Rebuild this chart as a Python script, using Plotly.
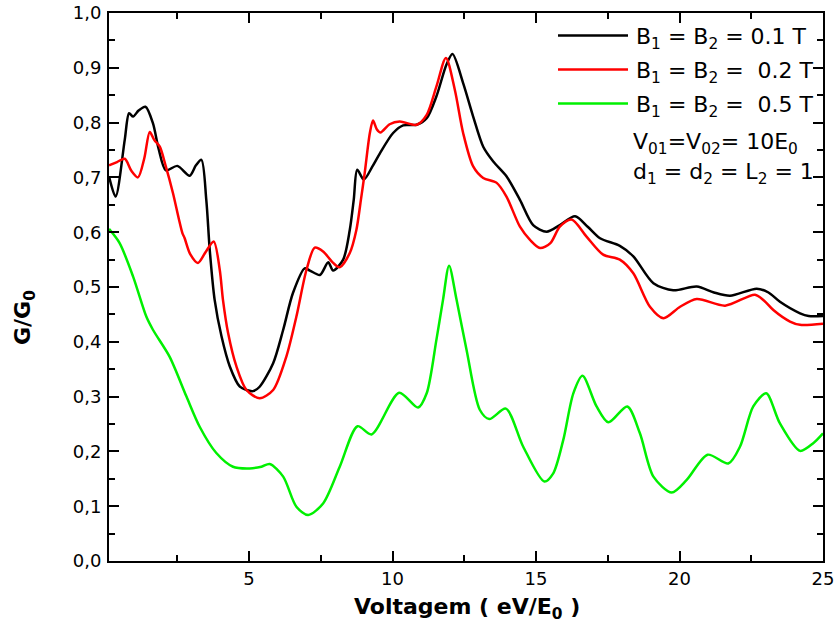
import plotly.graph_objects as go

# ---------------- data ----------------
black_x = [0.12, 0.35, 0.67, 0.82, 0.96, 1.15, 1.39, 1.65, 1.85, 2.1, 2.5, 2.93, 3.15, 3.34, 3.51, 3.63, 3.8,
           4.04, 4.33, 4.68, 4.91, 5.14, 5.37, 5.84, 6.19, 6.53, 6.94, 7.12, 7.47, 7.76, 7.93, 8.28, 8.51, 8.65,
           8.77, 9.0, 9.3, 9.56, 10.02, 10.37, 10.84, 11.19, 11.53, 11.88, 12.09, 12.46, 12.81, 13.16, 13.51,
           13.97, 14.44, 14.9, 15.37, 15.83, 16.36, 16.8, 17.23, 17.92, 18.39, 19.09, 19.78, 20.6, 21.2,
           21.76, 22.69, 23.1, 23.5, 24.2, 24.5, 25.0]
black_y = [0.702, 0.665, 0.769, 0.817, 0.811, 0.822, 0.829, 0.799, 0.752, 0.713, 0.721, 0.703, 0.722, 0.732,
           0.659, 0.568, 0.477, 0.41, 0.355, 0.318, 0.312, 0.310, 0.318, 0.361, 0.422, 0.489, 0.534, 0.53, 0.522,
           0.545, 0.530, 0.55, 0.604, 0.66, 0.714, 0.696, 0.72, 0.744, 0.781, 0.795, 0.796, 0.808, 0.848, 0.906,
           0.925, 0.872, 0.811, 0.756, 0.729, 0.702, 0.659, 0.613, 0.601, 0.613, 0.629, 0.61, 0.589,
           0.575, 0.556, 0.507, 0.494, 0.501, 0.49, 0.484, 0.497, 0.49, 0.473, 0.452, 0.447, 0.447]

red_x = [0.12, 0.4, 0.67, 0.9, 1.13, 1.35, 1.54, 1.7, 1.89, 2.1, 2.35, 2.55, 2.68, 2.75, 2.95, 3.22, 3.5, 3.77,
         3.98, 4.09, 4.27, 4.56, 4.91, 5.37, 5.84, 6.3, 6.65, 7.0, 7.29, 7.58, 7.93, 8.16, 8.51, 8.74,
         8.9, 9.03, 9.21, 9.32, 9.45, 9.58, 9.9, 10.25, 10.84, 11.19, 11.53, 11.86, 12.17, 12.46, 12.81,
         13.16, 13.63, 13.97, 14.44, 14.79, 15.14, 15.5, 15.83, 16.24, 16.76, 17.34, 17.92, 18.39, 18.97, 19.44,
         20.02, 20.6, 21.59, 22.63, 22.95, 23.27, 23.85, 24.2, 25.0]
red_y = [0.722, 0.728, 0.734, 0.712, 0.700, 0.735, 0.783, 0.768, 0.756, 0.72, 0.671, 0.625, 0.598, 0.59, 0.56,
         0.544, 0.565, 0.583, 0.531, 0.477, 0.416, 0.355, 0.312, 0.297, 0.312, 0.373, 0.446, 0.531, 0.572,
         0.565, 0.544, 0.536, 0.562, 0.604, 0.66, 0.708, 0.781, 0.804, 0.788, 0.782, 0.797, 0.802, 0.796, 0.814,
         0.866, 0.918, 0.860, 0.781, 0.720, 0.699, 0.690, 0.665, 0.610, 0.586, 0.571, 0.58, 0.610, 0.623, 0.592,
         0.559, 0.550, 0.525, 0.464, 0.443, 0.464, 0.478, 0.466, 0.486, 0.475, 0.458, 0.437, 0.431, 0.433]

green_x = [0.12, 0.49, 0.96, 1.42, 1.65, 2.23, 2.82, 3.28, 3.86, 4.44, 5.02, 5.43, 5.72, 6.19, 6.65, 7.06, 7.58,
           8.16, 8.78, 9.27, 10.23, 10.89, 11.19, 11.53, 11.76, 11.97, 12.23, 12.58, 13.04, 13.37, 13.95, 14.55,
           15.29, 15.6, 15.95, 16.30, 16.62, 17.11, 17.52, 18.18, 18.62, 19.09, 19.73, 20.25, 20.98, 21.70, 22.11,
           22.57, 23.02, 23.50, 24.20, 24.66, 25.0]
green_y = [0.606, 0.580, 0.519, 0.446, 0.422, 0.373, 0.300, 0.245, 0.197, 0.172, 0.169, 0.172, 0.177, 0.154,
           0.099, 0.084, 0.105, 0.172, 0.246, 0.231, 0.307, 0.280, 0.306, 0.404, 0.477, 0.539, 0.477, 0.385,
           0.276, 0.259, 0.278, 0.209, 0.145, 0.16, 0.221, 0.306, 0.338, 0.282, 0.253, 0.282, 0.233, 0.154, 0.125,
           0.148, 0.194, 0.178, 0.209, 0.282, 0.306, 0.251, 0.201, 0.215, 0.233]

series_names = ["B<sub>1</sub> = B<sub>2</sub> = 0.1 T",
                "B<sub>1</sub> = B<sub>2</sub> =&nbsp; 0.2 T",
                "B<sub>1</sub> = B<sub>2</sub> =&nbsp; 0.5 T"]
series_colors = ["#000000", "#ff0000", "#00f000"]
extra_legend = ["V<sub>01</sub>=V<sub>02</sub>= 10E<sub>0</sub>",
                "d<sub>1</sub> = d<sub>2</sub> = L<sub>2</sub> = 1"]

x_ticks = [5, 10, 15, 20, 25]
x_minor = [2.5, 7.5, 12.5, 17.5, 22.5]
y_ticks = [0.0, 0.1, 0.2, 0.3, 0.4, 0.5, 0.6, 0.7, 0.8, 0.9, 1.0]
y_ticktext = ["0,0", "0,1", "0,2", "0,3", "0,4", "0,5", "0,6", "0,7", "0,8", "0,9", "1,0"]

FONT = "DejaVu Sans, Liberation Sans, Arial, sans-serif"

fig = go.Figure()
for xs, ys, name, col in zip([black_x, red_x, green_x], [black_y, red_y, green_y], series_names, series_colors):
    fig.add_trace(go.Scatter(x=xs, y=ys, mode="lines", name=name,
                             line=dict(color=col, width=2.5, shape="spline", smoothing=0.8),
                             showlegend=False))

# manual legend (lines + text), in paper coordinates
W, H = 839, 630
L, R, T, B = 109, 16, 13, 69
pw, ph = W - L - R, H - T - B
def px2paper(px, py):
    return (px - L) / pw, (H - B - py) / ph

row_y = [35.5, 69.5, 103.5]
for name, col, ry in zip(series_names, series_colors, row_y):
    x0, y0 = px2paper(558, ry)
    x1, _ = px2paper(628, ry)
    fig.add_shape(type="line", xref="paper", yref="paper", x0=x0, x1=x1, y0=y0, y1=y0,
                  line=dict(color=col, width=2.5))
    tx, ty = px2paper(634, ry + 3)
    fig.add_annotation(text=name, xref="paper", yref="paper", x=tx, y=ty, xanchor="left", yanchor="middle",
                       showarrow=False, font=dict(family=FONT, size=22, color="black"))
for txt, ry in zip(extra_legend, [141, 170]):
    tx, ty = px2paper(631, ry + 3)
    fig.add_annotation(text=txt, xref="paper", yref="paper", x=tx, y=ty, xanchor="left", yanchor="middle",
                       showarrow=False, font=dict(family=FONT, size=22, color="black"))

# axis titles
tx, ty = px2paper(467, 608)
fig.add_annotation(text="<b>Voltagem ( eV/E<sub>0</sub> )</b>", xref="paper", yref="paper", x=tx, y=ty,
                   xanchor="center", yanchor="middle", showarrow=False,
                   font=dict(family=FONT, size=22, color="black"))
tx, ty = px2paper(24, 318)
fig.add_annotation(text="<b>G/G<sub>0</sub></b>", xref="paper", yref="paper", x=tx, y=ty, textangle=-90,
                   xanchor="center", yanchor="middle", showarrow=False,
                   font=dict(family=FONT, size=22, color="black"))

axis_common = dict(showline=True, linecolor="black", linewidth=2, mirror="allticks", ticks="inside",
                   ticklen=10, tickwidth=2, tickcolor="black", showgrid=False, zeroline=False,
                   automargin=False,
                   tickfont=dict(family=FONT, size=18, color="black"))
fig.update_xaxes(range=[0.12, 25], tickmode="array", tickvals=x_ticks, ticktext=[str(v) for v in x_ticks],
                 minor=dict(tickmode="array", tickvals=x_minor, ticks="inside", ticklen=6, tickwidth=1.5,
                            tickcolor="black"),
                 **axis_common)
fig.update_yaxes(range=[0, 1.0], tickmode="array", tickvals=y_ticks, ticktext=y_ticktext,
                 ticklabelstandoff=2,
                 minor=dict(tick0=0.05, dtick=0.1, ticks="inside", ticklen=6, tickwidth=1.5, tickcolor="black"),
                 **axis_common)

fig.update_layout(width=W, height=H, margin=dict(l=L, r=R, t=T, b=B, autoexpand=False),
                  plot_bgcolor="white", paper_bgcolor="white",
                  font=dict(family=FONT, color="black"))
fig.write_html("out.html", config={"displayModeBar": False},
               post_script="document.body.style.margin='0px';document.body.style.overflow='hidden';")
